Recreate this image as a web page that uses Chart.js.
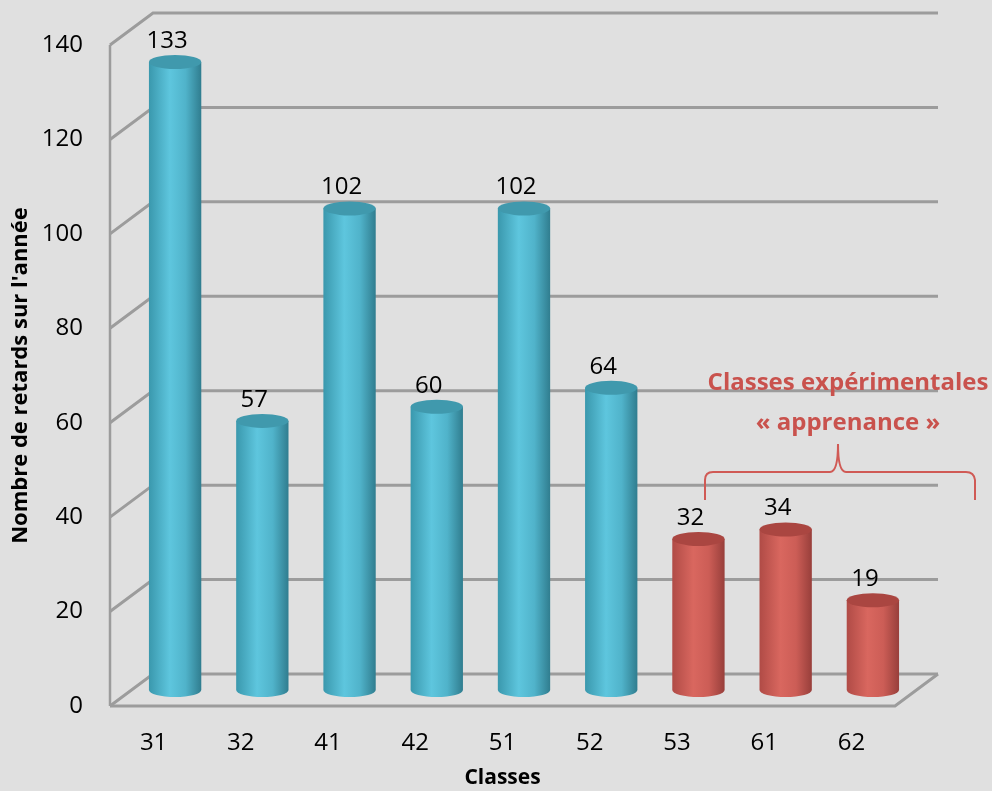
<!DOCTYPE html>
<html>
<head>
<meta charset="utf-8">
<script src="https://cdn.jsdelivr.net/npm/chart.js@4"></script>
<style>
  body { margin: 0; background: #e0e0e0; }
  #wrap { width: 992px; height: 791px; }
</style>
</head>
<body>
<div id="wrap"><canvas id="retardsChart" width="992" height="791"></canvas></div>
<script>
// data
const classes = ['31', '32', '41', '42', '51', '52', '53', '61', '62'];
const retards = [133, 57, 102, 60, 102, 64, 32, 34, 19];
const experimentales = ['53', '61', '62'];
const yTicks = [0, 20, 40, 60, 80, 100, 120, 140];

// depth of the 3D box (pixels)
const DX = 43, DY = -32;

const teal = { left: '#3a98ad', light: '#5ec6de', mid: '#50b3ca', right: '#307d8f', top: '#4099ad' };
const red = { left: '#b04b46', light: '#d9675f', mid: '#cc5d56', right: '#983f3b', top: '#aa4641' };

// walls, grid lines and floor drawn behind the cylinders
const box3d = {
  id: 'box3d',
  beforeDatasetsDraw(chart) {
    const ctx = chart.ctx;
    const y = chart.scales.y;
    const area = chart.chartArea;
    ctx.save();
    ctx.strokeStyle = '#9c9c9c';
    ctx.lineWidth = 3;
    yTicks.forEach(v => {
      const py = y.getPixelForValue(v);
      ctx.beginPath();
      ctx.moveTo(area.left, py);
      ctx.lineTo(area.left + DX, py + DY);
      ctx.lineTo(area.right + DX, py + DY);
      ctx.stroke();
    });
    // floor
    const p0 = y.getPixelForValue(0);
    ctx.beginPath();
    ctx.moveTo(area.left, p0);
    ctx.lineTo(area.right, p0);
    ctx.lineTo(area.right + DX, p0 + DY);
    ctx.stroke();
    // front vertical axis
    ctx.lineWidth = 2.5;
    ctx.beginPath();
    ctx.moveTo(area.left, y.getPixelForValue(140));
    ctx.lineTo(area.left, p0);
    ctx.stroke();
    ctx.restore();
  }
};

function cylinder(ctx, cx, w, yTop, yBot, col) {
  const ry = 7;
  const g = ctx.createLinearGradient(cx - w, 0, cx + w, 0);
  g.addColorStop(0, col.left);
  g.addColorStop(0.4, col.light);
  g.addColorStop(0.7, col.mid);
  g.addColorStop(1, col.right);
  ctx.fillStyle = g;
  ctx.beginPath();
  ctx.moveTo(cx - w, yTop);
  ctx.lineTo(cx - w, yBot);
  ctx.ellipse(cx, yBot, w, ry, 0, Math.PI, 0, true);
  ctx.lineTo(cx + w, yTop);
  ctx.closePath();
  ctx.fill();
  ctx.fillStyle = col.top;
  ctx.beginPath();
  ctx.ellipse(cx, yTop, w, ry, 0, 0, Math.PI * 2);
  ctx.fill();
}

const cylinders = {
  id: 'cylinders',
  afterDatasetsDraw(chart) {
    const ctx = chart.ctx;
    const meta = chart.getDatasetMeta(0);
    ctx.save();
    meta.data.forEach((bar, i) => {
      const col = experimentales.includes(classes[i]) ? red : teal;
      const cx = bar.x + DX / 2;
      const yTop = bar.y + DY / 2;
      const yBot = bar.base + DY / 2;
      cylinder(ctx, cx, bar.width / 2, yTop, yBot, col);
      ctx.fillStyle = '#000';
      ctx.font = '24px "Open Sans"';
      ctx.textAlign = 'center';
      ctx.textBaseline = 'middle';
      ctx.fillText(retards[i], cx - 8, yTop - 21);
    });

    // annotation + brace
    ctx.fillStyle = '#c9524d';
    ctx.font = 'bold 24px "Open Sans"';
    ctx.fillText('Classes expérimentales', 848, 383);
    ctx.fillText('« apprenance »', 848, 423);
    ctx.strokeStyle = '#d05a55';
    ctx.lineWidth = 2;
    ctx.beginPath();
    ctx.moveTo(705, 500);
    ctx.lineTo(705, 480);
    ctx.quadraticCurveTo(705, 472, 713, 472);
    ctx.lineTo(830, 472);
    ctx.quadraticCurveTo(838, 472, 838, 444);
    ctx.quadraticCurveTo(838, 472, 846, 472);
    ctx.lineTo(966, 472);
    ctx.quadraticCurveTo(974, 472, 975, 480);
    ctx.lineTo(975, 500);
    ctx.stroke();
    ctx.restore();
  }
};

new Chart(document.getElementById('retardsChart'), {
  type: 'bar',
  data: {
    labels: classes,
    datasets: [{
      label: 'Retards',
      data: retards,
      backgroundColor: 'rgba(0,0,0,0)',
      categoryPercentage: 1,
      barPercentage: 0.6
    }]
  },
  options: {
    responsive: false,
    animation: false,
    layout: { padding: { top: 45, right: 97, left: 0, bottom: 0 } },
    plugins: { legend: { display: false }, tooltip: { enabled: false } },
    scales: {
      x: {
        grid: { display: false },
        border: { display: false },
        ticks: { color: '#000', font: { family: 'Open Sans', size: 24 }, padding: 15 },
        title: { display: true, text: 'Classes', color: '#000', font: { family: 'Open Sans', size: 21, weight: 'bold' }, padding: { top: 0, bottom: 0 } },
        afterFit(scale) { scale.height = 85; }
      },
      y: {
        min: 0,
        max: 140,
        grid: { display: false },
        border: { display: false },
        ticks: { stepSize: 20, color: '#000', font: { family: 'Open Sans', size: 24 }, padding: 19 },
        title: { display: true, text: "Nombre de retards sur l'année", color: '#000', font: { family: 'Open Sans', size: 22, weight: 'bold' }, padding: { top: 8, bottom: 0 } },
        afterFit(scale) { scale.width = 110; }
      }
    }
  },
  plugins: [box3d, cylinders]
});
</script>
</body>
</html>
